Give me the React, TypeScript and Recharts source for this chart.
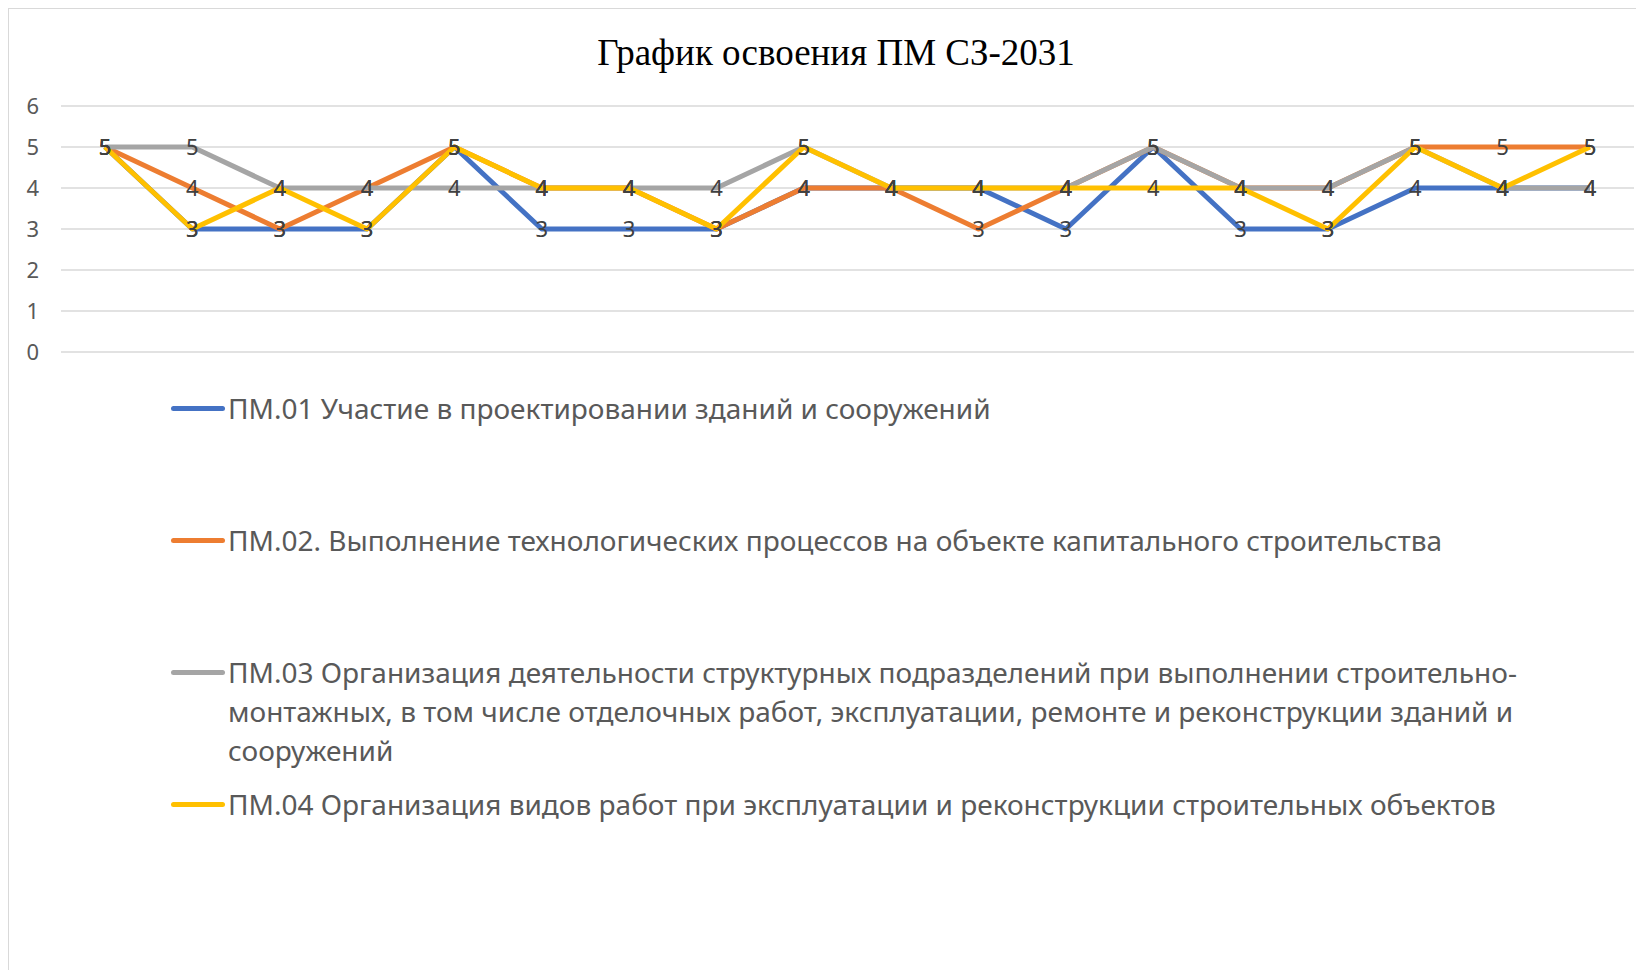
import React from 'react';
import { LineChart, Line, XAxis, YAxis, CartesianGrid, Legend, LabelList } from 'recharts';

const categories = ['1', '2', '3', '4', '5', '6', '7', '8', '9', '10', '11', '12', '13', '14', '15', '16', '17', '18'];
const pm01 = [5, 3, 3, 3, 5, 3, 3, 3, 4, 4, 4, 3, 5, 3, 3, 4, 4, 4];
const pm02 = [5, 4, 3, 4, 5, 4, 4, 3, 4, 4, 3, 4, 5, 4, 4, 5, 5, 5];
const pm03 = [5, 5, 4, 4, 4, 4, 4, 4, 5, 4, 4, 4, 5, 4, 4, 5, 4, 4];
const pm04 = [5, 3, 4, 3, 5, 4, 4, 3, 5, 4, 4, 4, 4, 4, 3, 5, 4, 5];
const yTicks = [0, 1, 2, 3, 4, 5, 6];

const series = [
  { key: 'pm01', name: 'ПМ.01 Участие в проектировании зданий и сооружений', color: '#4472C4' },
  { key: 'pm02', name: 'ПМ.02. Выполнение технологических процессов на объекте капитального строительства', color: '#ED7D31' },
  {
    key: 'pm03',
    name: 'ПМ.03 Организация деятельности структурных подразделений при выполнении строительно-монтажных, в том числе отделочных работ, эксплуатации, ремонте и реконструкции зданий и сооружений',
    color: '#A5A5A5',
  },
  { key: 'pm04', name: 'ПМ.04 Организация видов работ при эксплуатации и реконструкции строительных объектов', color: '#FFC000' },
];

const data = categories.map((c, i) => ({
  name: c,
  pm01: pm01[i],
  pm02: pm02[i],
  pm03: pm03[i],
  pm04: pm04[i],
}));

const font = '"Noto Sans", sans-serif';

const renderLegend = () => (
  <div style={{ fontFamily: font, fontSize: 28, color: '#595959' }}>
    {series.map((s) => (
      <div key={s.key} style={{ display: 'flex', alignItems: 'flex-start', height: 132 }}>
        <div style={{ width: 57, height: 39, display: 'flex', alignItems: 'center' }}>
          <div style={{ width: 54, height: 5, borderRadius: 3, background: s.color }} />
        </div>
        <div style={{ width: 1300, lineHeight: '39px' }}>{s.name}</div>
      </div>
    ))}
  </div>
);

const App = () => {
  return (
    <div
      style={{
        position: 'relative',
        width: 1636,
        height: 962,
        borderLeft: '1px solid #d9d9d9',
        borderTop: '1px solid #d9d9d9',
        boxSizing: 'border-box',
        background: '#fff',
      }}
    >
      <div
        style={{
          position: 'absolute',
          top: 22,
          left: 0,
          width: 1654,
          textAlign: 'center',
          fontFamily: '"Liberation Serif", serif',
          fontSize: 37,
          color: '#000',
        }}
      >
        График освоения ПМ СЗ-2031
      </div>
      <LineChart width={1635} height={961} data={data} margin={{ top: 97, right: 10, left: 0, bottom: 618 }}>
        <CartesianGrid vertical={false} stroke="#d9d9d9" strokeWidth={1.5} />
        <XAxis dataKey="name" hide padding={{ left: 44, right: 44 }} />
        <YAxis
          domain={[0, 6]}
          ticks={yTicks}
          width={52}
          axisLine={false}
          tickLine={false}
          tickMargin={16}
          tick={{ fill: '#595959', fontSize: 22, fontFamily: font }}
        />
        <Legend
          layout="vertical"
          align="center"
          verticalAlign="middle"
          content={renderLegend}
          wrapperStyle={{ top: 380, left: 162, width: 1420 }}
        />
        {series.map((s) => (
          <Line
            key={s.key}
            type="linear"
            dataKey={s.key}
            name={s.name}
            stroke={s.color}
            strokeWidth={5}
            strokeLinejoin="round"
            dot={false}
            activeDot={false}
            isAnimationActive={false}
          />
        ))}
        {series.map((s) => (
          <Line
            key={s.key + '-labels'}
            type="linear"
            dataKey={s.key}
            stroke="none"
            dot={false}
            activeDot={false}
            legendType="none"
            isAnimationActive={false}
          >
            <LabelList dataKey={s.key} position="center" fill="#404040" fontSize={22} fontFamily={font} />
          </Line>
        ))}
      </LineChart>
    </div>
  );
};

export default App;
